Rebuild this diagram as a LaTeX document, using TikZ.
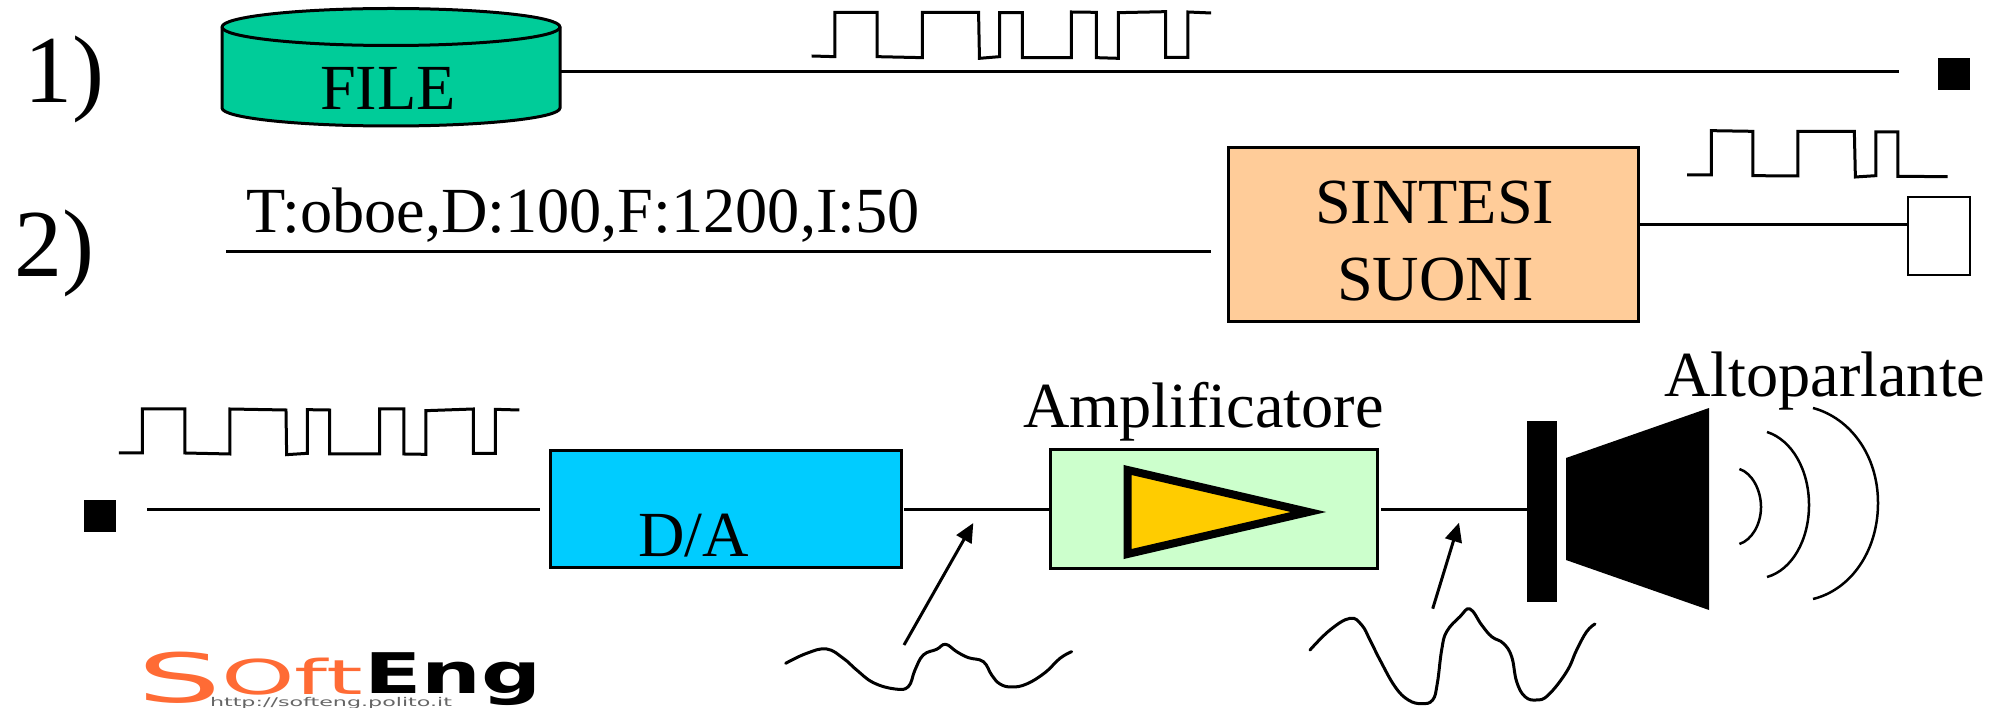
\documentclass[tikz,border=0pt]{standalone}
\usepackage{fontspec}
\setmainfont{Liberation Serif}
\newfontfamily\logofont{DejaVu Sans}
\usetikzlibrary{arrows.meta}
\definecolor{filegreen}{HTML}{00CC99}
\definecolor{synthorange}{HTML}{FFCC99}
\definecolor{dacblue}{HTML}{00CCFF}
\definecolor{ampgreen}{HTML}{CCFFCC}
\definecolor{ampyellow}{HTML}{FFCC00}
\definecolor{logoorange}{HTML}{FF6B35}
\tikzset{
  txt/.style={anchor=base west,inner sep=0pt,outer sep=0pt,font=\fontsize{64.3}{76}\selectfont},
  bigtxt/.style={anchor=base west,inner sep=0pt,outer sep=0pt,font=\fontsize{96}{110}\selectfont},
  wire/.style={line width=3pt,black},
  boxnode/.style={draw=black,line width=3pt,inner sep=0pt,outer sep=0pt,anchor=north west},
  sig/.style={line width=3pt,line join=miter,black},
  wave/.style={line width=3pt,black,line cap=round},
  ptr/.style={line width=3pt,black,-{Triangle[length=19pt,width=17pt]}},
  sound/.style={line width=2.5pt,black},
  port/.style={fill=black,draw=none,inner sep=0pt,outer sep=0pt,minimum size=32pt,anchor=north west}
}
\newcommand{\fullsig}{(138,168)--(190,170)--(190,37)--(285,37)--(285,170)--(386,173)--(386,37)--(512,37)--(514,175)--(559,170)--(559,38)--(610,38)--(610,173)--(720,173)--(720,36)--(776,37)--(776,173)--(825,175)--(825,38)--(931,35)--(931,172)--(981,172)--(981,36)--(1033,39)}
\begin{document}
\begin{tikzpicture}[x=1pt,y=-1pt]
\useasboundingbox (0,0) rectangle (2004,708);
\begin{scope}
\clip (0,0) rectangle (2004,708);
% labels
\node[bigtxt] (one) at (24,103) {1)};
\node[bigtxt] (two) at (14,277) {2)};
% row 1: file cylinder
\path[fill=filegreen,draw=black,line width=3pt] (222,27) -- (222,108) arc[x radius=169,y radius=18,start angle=180,end angle=0] -- (560,27) arc[x radius=169,y radius=18.5,start angle=0,end angle=-180] -- cycle;
\draw[line width=3pt] (222,27) arc[x radius=169,y radius=18.5,start angle=180,end angle=0];
\coordinate (fileport) at (560,72);
\node[txt] (file) at (320,110) {FILE};
\node[port] (sq1) at (1938,58) {};
\coordinate (sq1in) at (1899,72);
\draw[wire] (fileport) -- (sq1in);
\begin{scope}[shift={(750,0)},xscale=0.4464,yscale=0.3333]
\draw[sig] \fullsig;
\end{scope}
% row 2
\node[txt] (cmd) at (246,233) {T:oboe,D:100,F:1200,I:50};
\node[boxnode,fill=synthorange,minimum width=410pt,minimum height=174pt] (synth) at (1228,148) {};
\node[txt] (sintesi) at (1315,224) {SINTESI};
\node[txt] (suoni) at (1337,301) {SUONI};
\node[boxnode,fill=white,line width=2pt,minimum width=62pt,minimum height=78pt] (sq2) at (1908,197) {};
\coordinate (cmdstart) at (226,252);
\coordinate (cmdend) at (1211,252);
\draw[wire] (cmdstart) -- (cmdend);
\draw[wire] (synth.east |- 0,225) -- (sq2.west |- 0,225);
\begin{scope}[shift={(1200,100)},xscale=0.5128,yscale=0.3333]
\draw[sig] (950,225)--(997,225)--(997,92)--(1078,94)--(1078,227)--(1166,228)--(1166,94)--(1276,94)--(1278,231)--(1318,227)--(1318,96)--(1361,96)--(1361,229)--(1458,230);
\end{scope}
% row 3
\node[port] (sq3) at (84,500) {};
\begin{scope}[shift={(60,390)},xscale=0.3333,yscale=0.3333]
\draw[sig] (177,189)--(247,189)--(247,57)--(375,57)--(375,189)--(510,192)--(510,57)--(678,60)--(680,194)--(742,190)--(742,59)--(809,60)--(809,192)--(959,192)--(959,57)--(1032,57)--(1032,192)--(1098,193)--(1098,62)--(1240,57)--(1240,190)--(1306,190)--(1306,58)--(1378,60);
\end{scope}
\node[boxnode,fill=dacblue,minimum width=351pt,minimum height=117pt] (dac) at (550,450) {};
\node[txt] (da) at (638,556) {D/A};
\node[boxnode,fill=ampgreen,minimum width=327pt,minimum height=119pt] (amp) at (1050,449) {};
\node[txt] (amptxt) at (1023,427) {Amplificatore};
\node[txt] (spktxt) at (1664,396) {Altoparlante};
\draw[line width=8pt,fill=ampyellow,line join=miter] (1127.6,470) -- (1308.5,512) -- (1127.6,554) -- cycle;
\coordinate (in3a) at (147,509);
\coordinate (in3b) at (540,509);
\draw[wire] (in3a) -- (in3b);
\coordinate (dacout) at (904,509);
\coordinate (ampin) at (1052,509);
\draw[wire] (dacout) -- (ampin);
\coordinate (ampout) at (1381,509);
\node[fill=black,draw=none,inner sep=0pt,outer sep=0pt,anchor=north west,minimum width=30pt,minimum height=181pt] (coil) at (1527,421) {};
\draw[wire] (ampout) -- (coil.west |- ampout);
\fill[black] (1566,458) -- (1709,408) -- (1709,610) -- (1566,560) -- cycle;
\draw[sound] (1739.4,469) .. controls (1752,473) and (1761,490) .. (1761,507) .. controls (1761,524) and (1752,540) .. (1739.4,544);
\draw[sound] (1767,432) .. controls (1792,440) and (1809,470) .. (1809,505) .. controls (1809,540) and (1792,570) .. (1767,577);
\draw[sound] (1813,408) .. controls (1850,418) and (1878,455) .. (1878,503) .. controls (1878,552) and (1850,590) .. (1813,599);
% waves and pointers
\coordinate (p1a) at (904,645); \coordinate (p1b) at (973.3,523);
\draw[ptr] (p1a) -- (p1b);
\coordinate (p2a) at (1432.7,608.7); \coordinate (p2b) at (1459,522.7);
\draw[ptr] (p2a) -- (p2b);
\begin{scope}[shift={(760,490)},xscale=0.3333,yscale=0.3333]
\draw[wave] plot[smooth,tension=0.7] coordinates {(77,520)(140,490)(200,477)(250,505)(290,540)(340,578)(405,597)(445,590)(465,540)(490,495)(530,478)(557,463)(590,485)(625,503)(670,515)(695,555)(720,582)(755,591)(800,582)(855,548)(900,505)(935,485)};
\end{scope}
\begin{scope}[shift={(1290,500)},xscale=0.3333,yscale=0.3333]
\draw[wave] plot[smooth,tension=0.7] coordinates {(60,450)(120,390)(180,355)(215,375)(240,420)(270,480)(315,560)(355,600)(395,611)(428,600)(442,550)(455,450)(470,395)(510,350)(540,327)(575,375)(605,410)(640,430)(665,470)(680,545)(705,590)(740,600)(775,585)(830,515)(860,450)(890,395)(915,372)};
\end{scope}
% logo
\node[anchor=base west,inner sep=0pt,outer sep=0pt,text=black!60,xscale=1.85] (logoc) at (210,706) {\logofont\fontsize{12}{14}\selectfont http://softeng.polito.it};
\node[anchor=base west,inner sep=0pt,outer sep=0pt,text=logoorange,xscale=1.95] (logoa) at (137,702) {\logofont{\fontsize{68}{70}\selectfont S}\raisebox{8pt}{\fontsize{48}{50}\selectfont Oft}};
\node[anchor=base west,inner sep=0pt,outer sep=0pt,text=black,xscale=1.5] (logob) at (364,693) {\logofont\bfseries\fontsize{56}{60}\selectfont Eng};
\end{scope}
\end{tikzpicture}
\end{document}
